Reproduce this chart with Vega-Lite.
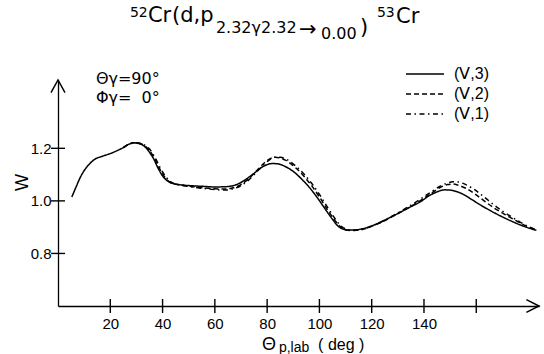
{
  "$schema": "https://vega.github.io/schema/vega-lite/v6.json",
  "width": 481,
  "height": 226,
  "autosize": "none",
  "padding": {"left": 58, "top": 80, "right": 5, "bottom": 48},
  "background": "white",
  "config": {
    "view": {"stroke": null},
    "font": "Liberation Sans",
    "legend": {"symbolStrokeColor": "black"}
  },
  "datasets": {
    "curves": [
      {"s": "(Ⅴ,3)", "x": 5.3, "w": 1.015},
      {"s": "(Ⅴ,3)", "x": 7, "w": 1.055},
      {"s": "(Ⅴ,3)", "x": 8.5, "w": 1.089},
      {"s": "(Ⅴ,3)", "x": 10, "w": 1.115},
      {"s": "(Ⅴ,3)", "x": 12, "w": 1.14},
      {"s": "(Ⅴ,3)", "x": 14, "w": 1.158},
      {"s": "(Ⅴ,3)", "x": 17, "w": 1.17},
      {"s": "(Ⅴ,3)", "x": 20, "w": 1.18},
      {"s": "(Ⅴ,3)", "x": 23, "w": 1.193},
      {"s": "(Ⅴ,3)", "x": 25, "w": 1.203},
      {"s": "(Ⅴ,3)", "x": 27, "w": 1.215},
      {"s": "(Ⅴ,3)", "x": 29, "w": 1.221},
      {"s": "(Ⅴ,3)", "x": 31, "w": 1.218},
      {"s": "(Ⅴ,3)", "x": 33, "w": 1.208},
      {"s": "(Ⅴ,3)", "x": 35, "w": 1.185},
      {"s": "(Ⅴ,3)", "x": 36.6, "w": 1.16},
      {"s": "(Ⅴ,3)", "x": 38, "w": 1.13},
      {"s": "(Ⅴ,3)", "x": 40, "w": 1.095},
      {"s": "(Ⅴ,3)", "x": 42, "w": 1.075},
      {"s": "(Ⅴ,3)", "x": 44, "w": 1.066},
      {"s": "(Ⅴ,3)", "x": 48, "w": 1.06},
      {"s": "(Ⅴ,3)", "x": 52, "w": 1.057},
      {"s": "(Ⅴ,3)", "x": 56, "w": 1.055},
      {"s": "(Ⅴ,3)", "x": 60, "w": 1.053},
      {"s": "(Ⅴ,3)", "x": 64, "w": 1.054},
      {"s": "(Ⅴ,3)", "x": 67, "w": 1.058},
      {"s": "(Ⅴ,3)", "x": 70, "w": 1.07},
      {"s": "(Ⅴ,3)", "x": 72, "w": 1.083},
      {"s": "(Ⅴ,3)", "x": 75, "w": 1.105},
      {"s": "(Ⅴ,3)", "x": 78, "w": 1.128},
      {"s": "(Ⅴ,3)", "x": 80, "w": 1.138},
      {"s": "(Ⅴ,3)", "x": 82, "w": 1.142},
      {"s": "(Ⅴ,3)", "x": 84, "w": 1.141},
      {"s": "(Ⅴ,3)", "x": 86, "w": 1.135},
      {"s": "(Ⅴ,3)", "x": 88, "w": 1.125},
      {"s": "(Ⅴ,3)", "x": 90, "w": 1.112},
      {"s": "(Ⅴ,3)", "x": 93, "w": 1.085},
      {"s": "(Ⅴ,3)", "x": 96, "w": 1.053},
      {"s": "(Ⅴ,3)", "x": 99, "w": 1.015},
      {"s": "(Ⅴ,3)", "x": 102, "w": 0.972},
      {"s": "(Ⅴ,3)", "x": 105, "w": 0.93},
      {"s": "(Ⅴ,3)", "x": 107, "w": 0.905},
      {"s": "(Ⅴ,3)", "x": 109, "w": 0.893},
      {"s": "(Ⅴ,3)", "x": 111, "w": 0.889},
      {"s": "(Ⅴ,3)", "x": 113, "w": 0.889},
      {"s": "(Ⅴ,3)", "x": 116, "w": 0.893},
      {"s": "(Ⅴ,3)", "x": 120, "w": 0.905},
      {"s": "(Ⅴ,3)", "x": 125, "w": 0.927},
      {"s": "(Ⅴ,3)", "x": 130, "w": 0.952},
      {"s": "(Ⅴ,3)", "x": 135, "w": 0.978},
      {"s": "(Ⅴ,3)", "x": 139, "w": 0.999},
      {"s": "(Ⅴ,3)", "x": 142, "w": 1.02},
      {"s": "(Ⅴ,3)", "x": 144, "w": 1.03},
      {"s": "(Ⅴ,3)", "x": 146, "w": 1.038},
      {"s": "(Ⅴ,3)", "x": 148, "w": 1.042},
      {"s": "(Ⅴ,3)", "x": 150, "w": 1.041},
      {"s": "(Ⅴ,3)", "x": 152, "w": 1.037},
      {"s": "(Ⅴ,3)", "x": 155, "w": 1.025},
      {"s": "(Ⅴ,3)", "x": 158, "w": 1.007},
      {"s": "(Ⅴ,3)", "x": 161, "w": 0.988},
      {"s": "(Ⅴ,3)", "x": 165, "w": 0.965},
      {"s": "(Ⅴ,3)", "x": 169, "w": 0.944},
      {"s": "(Ⅴ,3)", "x": 173, "w": 0.925},
      {"s": "(Ⅴ,3)", "x": 177, "w": 0.908},
      {"s": "(Ⅴ,3)", "x": 180, "w": 0.897},
      {"s": "(Ⅴ,3)", "x": 183, "w": 0.888},

      {"s": "(Ⅴ,2)", "x": 25, "w": 1.203},
      {"s": "(Ⅴ,2)", "x": 27, "w": 1.215},
      {"s": "(Ⅴ,2)", "x": 29, "w": 1.221},
      {"s": "(Ⅴ,2)", "x": 31, "w": 1.219},
      {"s": "(Ⅴ,2)", "x": 33, "w": 1.211},
      {"s": "(Ⅴ,2)", "x": 35, "w": 1.192},
      {"s": "(Ⅴ,2)", "x": 37, "w": 1.16},
      {"s": "(Ⅴ,2)", "x": 39, "w": 1.12},
      {"s": "(Ⅴ,2)", "x": 41, "w": 1.088},
      {"s": "(Ⅴ,2)", "x": 43, "w": 1.07},
      {"s": "(Ⅴ,2)", "x": 46, "w": 1.062},
      {"s": "(Ⅴ,2)", "x": 50, "w": 1.056},
      {"s": "(Ⅴ,2)", "x": 55, "w": 1.05},
      {"s": "(Ⅴ,2)", "x": 60, "w": 1.046},
      {"s": "(Ⅴ,2)", "x": 64, "w": 1.045},
      {"s": "(Ⅴ,2)", "x": 67, "w": 1.05},
      {"s": "(Ⅴ,2)", "x": 70, "w": 1.062},
      {"s": "(Ⅴ,2)", "x": 73, "w": 1.085},
      {"s": "(Ⅴ,2)", "x": 76, "w": 1.115},
      {"s": "(Ⅴ,2)", "x": 79, "w": 1.145},
      {"s": "(Ⅴ,2)", "x": 81, "w": 1.16},
      {"s": "(Ⅴ,2)", "x": 83, "w": 1.166},
      {"s": "(Ⅴ,2)", "x": 85, "w": 1.163},
      {"s": "(Ⅴ,2)", "x": 87, "w": 1.155},
      {"s": "(Ⅴ,2)", "x": 89, "w": 1.142},
      {"s": "(Ⅴ,2)", "x": 91, "w": 1.125},
      {"s": "(Ⅴ,2)", "x": 94, "w": 1.095},
      {"s": "(Ⅴ,2)", "x": 97, "w": 1.058},
      {"s": "(Ⅴ,2)", "x": 100, "w": 1.015},
      {"s": "(Ⅴ,2)", "x": 103, "w": 0.968},
      {"s": "(Ⅴ,2)", "x": 106, "w": 0.925},
      {"s": "(Ⅴ,2)", "x": 108, "w": 0.902},
      {"s": "(Ⅴ,2)", "x": 110, "w": 0.89},
      {"s": "(Ⅴ,2)", "x": 112, "w": 0.887},
      {"s": "(Ⅴ,2)", "x": 114, "w": 0.888},
      {"s": "(Ⅴ,2)", "x": 117, "w": 0.893},
      {"s": "(Ⅴ,2)", "x": 121, "w": 0.907},
      {"s": "(Ⅴ,2)", "x": 126, "w": 0.93},
      {"s": "(Ⅴ,2)", "x": 131, "w": 0.957},
      {"s": "(Ⅴ,2)", "x": 136, "w": 0.985},
      {"s": "(Ⅴ,2)", "x": 140, "w": 1.01},
      {"s": "(Ⅴ,2)", "x": 143, "w": 1.03},
      {"s": "(Ⅴ,2)", "x": 146, "w": 1.05},
      {"s": "(Ⅴ,2)", "x": 149, "w": 1.062},
      {"s": "(Ⅴ,2)", "x": 151, "w": 1.064},
      {"s": "(Ⅴ,2)", "x": 153, "w": 1.06},
      {"s": "(Ⅴ,2)", "x": 156, "w": 1.048},
      {"s": "(Ⅴ,2)", "x": 159, "w": 1.03},
      {"s": "(Ⅴ,2)", "x": 163, "w": 1.0},
      {"s": "(Ⅴ,2)", "x": 167, "w": 0.972},
      {"s": "(Ⅴ,2)", "x": 171, "w": 0.948},
      {"s": "(Ⅴ,2)", "x": 175, "w": 0.926},
      {"s": "(Ⅴ,2)", "x": 179, "w": 0.905},
      {"s": "(Ⅴ,2)", "x": 183, "w": 0.889},

      {"s": "(Ⅴ,1)", "x": 25, "w": 1.203},
      {"s": "(Ⅴ,1)", "x": 27, "w": 1.215},
      {"s": "(Ⅴ,1)", "x": 29, "w": 1.221},
      {"s": "(Ⅴ,1)", "x": 31, "w": 1.22},
      {"s": "(Ⅴ,1)", "x": 33, "w": 1.213},
      {"s": "(Ⅴ,1)", "x": 35, "w": 1.197},
      {"s": "(Ⅴ,1)", "x": 37, "w": 1.167},
      {"s": "(Ⅴ,1)", "x": 39, "w": 1.128},
      {"s": "(Ⅴ,1)", "x": 41, "w": 1.095},
      {"s": "(Ⅴ,1)", "x": 43, "w": 1.073},
      {"s": "(Ⅴ,1)", "x": 46, "w": 1.062},
      {"s": "(Ⅴ,1)", "x": 50, "w": 1.055},
      {"s": "(Ⅴ,1)", "x": 55, "w": 1.048},
      {"s": "(Ⅴ,1)", "x": 60, "w": 1.043},
      {"s": "(Ⅴ,1)", "x": 64, "w": 1.041},
      {"s": "(Ⅴ,1)", "x": 67, "w": 1.046},
      {"s": "(Ⅴ,1)", "x": 70, "w": 1.058},
      {"s": "(Ⅴ,1)", "x": 73, "w": 1.08},
      {"s": "(Ⅴ,1)", "x": 76, "w": 1.11},
      {"s": "(Ⅴ,1)", "x": 79, "w": 1.14},
      {"s": "(Ⅴ,1)", "x": 81, "w": 1.157},
      {"s": "(Ⅴ,1)", "x": 83, "w": 1.166},
      {"s": "(Ⅴ,1)", "x": 85, "w": 1.166},
      {"s": "(Ⅴ,1)", "x": 87, "w": 1.16},
      {"s": "(Ⅴ,1)", "x": 89, "w": 1.148},
      {"s": "(Ⅴ,1)", "x": 91, "w": 1.132},
      {"s": "(Ⅴ,1)", "x": 94, "w": 1.103},
      {"s": "(Ⅴ,1)", "x": 97, "w": 1.067},
      {"s": "(Ⅴ,1)", "x": 100, "w": 1.025},
      {"s": "(Ⅴ,1)", "x": 103, "w": 0.977},
      {"s": "(Ⅴ,1)", "x": 106, "w": 0.932},
      {"s": "(Ⅴ,1)", "x": 108, "w": 0.907},
      {"s": "(Ⅴ,1)", "x": 110, "w": 0.893},
      {"s": "(Ⅴ,1)", "x": 112, "w": 0.888},
      {"s": "(Ⅴ,1)", "x": 114, "w": 0.888},
      {"s": "(Ⅴ,1)", "x": 117, "w": 0.893},
      {"s": "(Ⅴ,1)", "x": 121, "w": 0.908},
      {"s": "(Ⅴ,1)", "x": 126, "w": 0.932},
      {"s": "(Ⅴ,1)", "x": 131, "w": 0.96},
      {"s": "(Ⅴ,1)", "x": 136, "w": 0.99},
      {"s": "(Ⅴ,1)", "x": 140, "w": 1.016},
      {"s": "(Ⅴ,1)", "x": 143, "w": 1.036},
      {"s": "(Ⅴ,1)", "x": 146, "w": 1.055},
      {"s": "(Ⅴ,1)", "x": 149, "w": 1.068},
      {"s": "(Ⅴ,1)", "x": 151, "w": 1.073},
      {"s": "(Ⅴ,1)", "x": 153, "w": 1.072},
      {"s": "(Ⅴ,1)", "x": 156, "w": 1.062},
      {"s": "(Ⅴ,1)", "x": 159, "w": 1.045},
      {"s": "(Ⅴ,1)", "x": 163, "w": 1.015},
      {"s": "(Ⅴ,1)", "x": 167, "w": 0.983},
      {"s": "(Ⅴ,1)", "x": 171, "w": 0.955},
      {"s": "(Ⅴ,1)", "x": 175, "w": 0.93},
      {"s": "(Ⅴ,1)", "x": 179, "w": 0.907},
      {"s": "(Ⅴ,1)", "x": 183, "w": 0.889}
    ],
    "yticks": [{"v": 0.8}, {"v": 1.0}, {"v": 1.2}],
    "xticks": [{"v": 20}, {"v": 40}, {"v": 60}, {"v": 80}, {"v": 100}, {"v": 120}, {"v": 140}, {"v": 160}],
    "arrowUp": [{"x": 0, "y": 1.46}],
    "arrowRight": [{"x": 184, "y": 0.6}],
    "texts": [
      {"t": "52", "x": 27.5, "y": 1.700, "k": "sup"},
      {"t": "Cr", "x": 34.4, "y": 1.681, "k": "big"},
      {"t": "(d,p", "x": 43.6, "y": 1.681, "k": "big"},
      {"t": "2.32γ2.32", "x": 60.4, "y": 1.639, "k": "sub"},
      {"t": "→", "x": 92.2, "y": 1.627, "k": "big"},
      {"t": "0.00", "x": 100.6, "y": 1.616, "k": "sub"},
      {"t": ")", "x": 115.5, "y": 1.635, "k": "big"},
      {"t": "53", "x": 122.0, "y": 1.700, "k": "sup"},
      {"t": "Cr", "x": 129.3, "y": 1.677, "k": "big"},
      {"t": "Θγ=90°", "x": 14.5, "y": 1.445, "k": "anno"},
      {"t": "Φγ=\u00a0\u00a00°", "x": 14.5, "y": 1.372, "k": "anno"},
      {"t": "Θ", "x": 78.0, "y": 0.4326, "k": "axbig"},
      {"t": "p,lab", "x": 84.5, "y": 0.425, "k": "axsub"},
      {"t": "( deg )", "x": 99.5, "y": 0.4326, "k": "axmid"}
    ]
  },
  "layer": [
    {
      "data": {"name": "curves"},
      "mark": {"type": "line", "color": "black", "strokeWidth": 1.5, "interpolate": "monotone"},
      "encoding": {
        "x": {
          "field": "x", "type": "quantitative",
          "scale": {"domain": [0, 184], "nice": false, "zero": false},
          "axis": {
            "title": null, "values": [20, 40, 60, 80, 100, 120, 140],
            "ticks": false, "tickSize": 0, "grid": false,
            "domainColor": "black", "domainWidth": 1.3,
            "labelFontSize": 15, "labelColor": "black", "labelPadding": 10,
            "labelFont": "Liberation Sans"
          }
        },
        "y": {
          "field": "w", "type": "quantitative",
          "scale": {"domain": [0.6, 1.46], "nice": false, "zero": false},
          "axis": {
            "title": "W", "values": [0.8, 1.0, 1.2], "format": ".1f",
            "ticks": false, "tickSize": 0, "grid": false,
            "domainColor": "black", "domainWidth": 1.3,
            "labelFontSize": 15, "labelColor": "black", "labelPadding": 7,
            "labelFont": "Liberation Sans",
            "titleFontSize": 18, "titleFontWeight": "normal", "titleColor": "black",
            "titleFont": "Liberation Sans",
            "titleX": -36, "titleY": 102, "titleAlign": "center", "titleBaseline": "middle"
          }
        },
        "strokeDash": {
          "field": "s", "type": "nominal",
          "scale": {"domain": ["(Ⅴ,3)", "(Ⅴ,2)", "(Ⅴ,1)"], "range": [[1, 0], [5, 3], [5, 3.5, 1.5, 3.5]]},
          "legend": {
            "title": null, "orient": "none", "legendX": 347, "legendY": -13.5,
            "symbolType": "stroke", "symbolSize": 1444, "symbolStrokeWidth": 1.3,
            "symbolStrokeColor": "black", "symbolFillColor": "transparent",
            "clipHeight": 15,
            "labelFontSize": 16, "labelOffset": 9, "rowPadding": 3,
            "labelColor": "black", "labelFont": "Liberation Sans"
          }
        }
      }
    },
    {
      "data": {"name": "yticks"},
      "mark": {"type": "tick", "orient": "horizontal", "size": 14, "thickness": 1.4, "color": "black", "opacity": 1},
      "encoding": {
        "x": {"datum": 0, "type": "quantitative", "scale": {"domain": [0, 184], "nice": false, "zero": false}},
        "y": {"field": "v", "type": "quantitative", "scale": {"domain": [0.6, 1.46], "nice": false, "zero": false}}
      }
    },
    {
      "data": {"name": "xticks"},
      "mark": {"type": "tick", "orient": "vertical", "size": 14, "thickness": 1.4, "color": "black", "opacity": 1},
      "encoding": {
        "x": {"field": "v", "type": "quantitative", "scale": {"domain": [0, 184], "nice": false, "zero": false}},
        "y": {"datum": 0.6, "type": "quantitative", "scale": {"domain": [0.6, 1.46], "nice": false, "zero": false}}
      }
    },
    {
      "data": {"name": "arrowUp"},
      "mark": {"type": "point", "shape": "M -0.5 0.9 L 0 0 L 0.5 0.9", "size": 784, "filled": false, "stroke": "black", "strokeWidth": 1.5, "opacity": 1},
      "encoding": {
        "x": {"field": "x", "type": "quantitative"},
        "y": {"field": "y", "type": "quantitative"}
      }
    },
    {
      "data": {"name": "arrowRight"},
      "mark": {"type": "point", "shape": "M -0.9 -0.45 L 0 0 L -0.9 0.45", "size": 784, "filled": false, "stroke": "black", "strokeWidth": 1.5, "opacity": 1},
      "encoding": {
        "x": {"field": "x", "type": "quantitative"},
        "y": {"field": "y", "type": "quantitative"}
      }
    },
    {
      "data": {"name": "texts"},
      "transform": [{"filter": "datum.k === 'big'"}],
      "mark": {"type": "text", "align": "left", "baseline": "alphabetic", "fontSize": 21, "font": "DejaVu Sans", "color": "black"},
      "encoding": {
        "x": {"field": "x", "type": "quantitative"},
        "y": {"field": "y", "type": "quantitative"},
        "text": {"field": "t"}
      }
    },
    {
      "data": {"name": "texts"},
      "transform": [{"filter": "datum.k === 'sub'"}],
      "mark": {"type": "text", "align": "left", "baseline": "alphabetic", "fontSize": 16, "font": "DejaVu Sans", "color": "black"},
      "encoding": {
        "x": {"field": "x", "type": "quantitative"},
        "y": {"field": "y", "type": "quantitative"},
        "text": {"field": "t"}
      }
    },
    {
      "data": {"name": "texts"},
      "transform": [{"filter": "datum.k === 'sup'"}],
      "mark": {"type": "text", "align": "left", "baseline": "alphabetic", "fontSize": 14, "font": "DejaVu Sans", "color": "black"},
      "encoding": {
        "x": {"field": "x", "type": "quantitative"},
        "y": {"field": "y", "type": "quantitative"},
        "text": {"field": "t"}
      }
    },
    {
      "data": {"name": "texts"},
      "transform": [{"filter": "datum.k === 'anno'"}],
      "mark": {"type": "text", "align": "left", "baseline": "alphabetic", "fontSize": 16, "font": "DejaVu Sans", "color": "black"},
      "encoding": {
        "x": {"field": "x", "type": "quantitative"},
        "y": {"field": "y", "type": "quantitative"},
        "text": {"field": "t"}
      }
    },
    {
      "data": {"name": "texts"},
      "transform": [{"filter": "datum.k === 'axbig'"}],
      "mark": {"type": "text", "align": "left", "baseline": "alphabetic", "fontSize": 18, "font": "Liberation Sans", "color": "black"},
      "encoding": {
        "x": {"field": "x", "type": "quantitative"},
        "y": {"field": "y", "type": "quantitative"},
        "text": {"field": "t"}
      }
    },
    {
      "data": {"name": "texts"},
      "transform": [{"filter": "datum.k === 'axsub'"}],
      "mark": {"type": "text", "align": "left", "baseline": "alphabetic", "fontSize": 14, "font": "Liberation Sans", "color": "black"},
      "encoding": {
        "x": {"field": "x", "type": "quantitative"},
        "y": {"field": "y", "type": "quantitative"},
        "text": {"field": "t"}
      }
    },
    {
      "data": {"name": "texts"},
      "transform": [{"filter": "datum.k === 'axmid'"}],
      "mark": {"type": "text", "align": "left", "baseline": "alphabetic", "fontSize": 16, "font": "Liberation Sans", "color": "black"},
      "encoding": {
        "x": {"field": "x", "type": "quantitative"},
        "y": {"field": "y", "type": "quantitative"},
        "text": {"field": "t"}
      }
    }
  ]
}
